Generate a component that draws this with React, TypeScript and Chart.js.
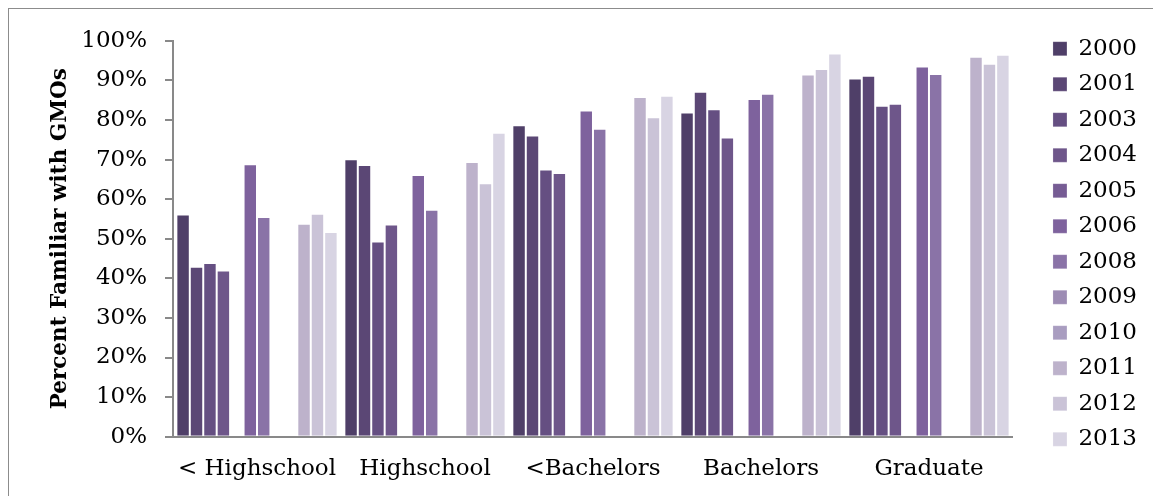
import React, { useEffect, useRef } from "react";
import { Chart, registerables } from "chart.js";

Chart.register(...registerables);

const categories = ["< Highschool", "Highschool", "<Bachelors", "Bachelors", "Graduate"];
const years = ["2000", "2001", "2003", "2004", "2005", "2006", "2008", "2009", "2010", "2011", "2012", "2013"];

const s2000 = [56.1, 70.1, 78.7, 81.9, 90.5];
const s2001 = [42.9, 68.6, 76.1, 87.1, 91.2];
const s2003 = [43.9, 49.3, 67.5, 82.7, 83.6];
const s2004 = [42.0, 53.6, 66.6, 75.6, 84.1];
const s2005 = [null, null, null, null, null];
const s2006 = [68.8, 66.1, 82.4, 85.3, 93.5];
const s2008 = [55.5, 57.3, 77.8, 86.6, 91.6];
const s2009 = [null, null, null, null, null];
const s2010 = [null, null, null, null, null];
const s2011 = [53.8, 69.4, 85.8, 91.5, 96.0];
const s2012 = [56.3, 64.0, 80.7, 92.9, 94.2];
const s2013 = [51.7, 76.8, 86.1, 96.8, 96.5];

const seriesValues = [s2000, s2001, s2003, s2004, s2005, s2006, s2008, s2009, s2010, s2011, s2012, s2013];

const colors = [
  "#4F3F68", "#5B4775", "#654F82", "#6E568A", "#765C94", "#7E629D",
  "#8A73A7", "#9D8CB4", "#A99DC0", "#BDB2CB", "#CAC3D7", "#D8D4E3",
];

const yMin = 0;
const yMax = 100;
const yStep = 10;
const yTitle = "Percent Familiar with GMOs";

const FONT = "'DejaVu Serif', serif";
const AXIS = "#898989";

export default function App() {
  const ref = useRef<HTMLCanvasElement | null>(null);

  useEffect(() => {
    if (!ref.current) return;
    const chart = new Chart(ref.current, {
      type: "bar",
      data: {
        labels: categories,
        datasets: years.map((y, i) => ({
          label: y,
          data: seriesValues[i],
          backgroundColor: colors[i],
          borderColor: "rgba(255,255,255,0.2)",
          borderWidth: 1,
          categoryPercentage: 0.96,
          barPercentage: 1.0,
        })),
      },
      options: {
        responsive: false,
        animation: false,
        events: [],
        layout: { padding: { top: 15.7, left: 0, right: 6, bottom: 0 } },
        plugins: {
          tooltip: { enabled: false },
          legend: {
            position: "right",
            align: "start",
            labels: {
              boxWidth: 14,
              boxHeight: 14,
              padding: 12.5,
              color: "#000",
              font: { family: FONT, size: 23 },
            },
          },
        },
        scales: {
          x: {
            position: "bottom",
            grid: { display: true, drawOnChartArea: false, drawTicks: false },
            border: { display: true, color: AXIS, width: 2 },
            ticks: { color: "#000", font: { family: FONT, size: 23 }, padding: 18.5, maxRotation: 0, autoSkip: false },
            afterFit: (s: any) => { s.height = 59.3; },
          },
          xTop: {
            type: "category",
            position: "top",
            labels: categories,
            display: true,
            grid: { display: false },
            border: { display: false },
            ticks: { display: false },
            afterFit: (s: any) => { s.height = 13.6; },
          },
          y: {
            min: yMin,
            max: yMax,
            position: "left",
            ticks: {
              stepSize: yStep,
              color: "#000",
              font: { family: FONT, size: 23 },
              padding: 18,
              callback: (v: any) => `${v}%`,
            },
            grid: { display: true, drawOnChartArea: false, drawTicks: true, tickLength: 8, color: AXIS, lineWidth: 2 },
            border: { display: true, color: AXIS, width: 2 },
            title: {
              display: true,
              text: yTitle,
              color: "#000",
              font: { family: FONT, size: 21.5, weight: "bold" },
              padding: { top: 38.1, bottom: 0 },
            },
            afterFit: (s: any) => { s.width = 164; },
          },
          yRight: {
            type: "linear",
            position: "right",
            display: true,
            grid: { display: false },
            border: { display: false },
            ticks: { display: false },
            afterFit: (s: any) => { s.width = 27.5; },
          },
        },
      },
    } as any);
    return () => chart.destroy();
  }, []);

  return (
    <div
      style={{
        position: "fixed",
        left: 8,
        top: 8,
        width: 1145,
        height: 488,
        boxSizing: "border-box",
        borderTop: "1px solid #8c8c8c",
        borderLeft: "1px solid #8c8c8c",
        background: "#fff",
      }}
    >
      <canvas ref={ref} width={1144} height={487} style={{ display: "block", width: 1144, height: 487 }} />
    </div>
  );
}
